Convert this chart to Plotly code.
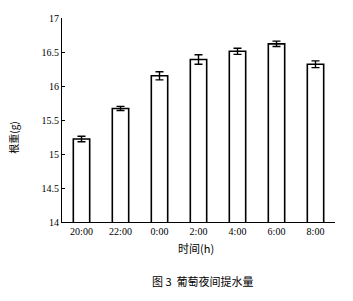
import plotly.graph_objects as go

categories = ["20:00", "22:00", "0:00", "2:00", "4:00", "6:00", "8:00"]
values = [15.22, 15.67, 16.15, 16.39, 16.51, 16.62, 16.32]
errors = [0.04, 0.03, 0.06, 0.07, 0.045, 0.04, 0.05]
y_ticks = [14, 14.5, 15, 15.5, 16, 16.5, 17]
y_tick_labels = ["14", "14.5", "15", "15.5", "16", "16.5", "17"]

fig = go.Figure()
fig.add_trace(go.Bar(
    x=categories, y=values,
    marker=dict(color="white", line=dict(color="black", width=1.6)),
    width=0.42,
    error_y=dict(type="data", array=errors, visible=True, color="black", thickness=1.4, width=4),
))

serif = "Liberation Serif"
fig.update_layout(
    width=353, height=301,
    margin=dict(l=62, r=18, t=14, b=79),
    paper_bgcolor="white", plot_bgcolor="white",
    showlegend=False,
    xaxis=dict(
        showline=True, linecolor="black", linewidth=1.2,
        ticks="", showgrid=False,
        tickfont=dict(family=serif, size=10, color="black"),
    ),
    yaxis=dict(
        range=[14, 17], tickvals=y_ticks, ticktext=y_tick_labels,
        showline=True, linecolor="black", linewidth=1.2,
        ticks="inside", ticklen=3, tickcolor="black",
        showgrid=False, zeroline=False,
        tickfont=dict(family=serif, size=10, color="black"),
    ),
    annotations=[
        dict(text="根重(g)", x=14, y=136, showarrow=False,
             textangle=-90, font=dict(family="Noto Sans CJK SC", size=10, color="black")),
        dict(text="时间(h)", x=196, y=249, showarrow=False,
             font=dict(family="Noto Sans CJK SC", size=11, color="black")),
        dict(text="图 3  葡萄夜间提水量", x=203, y=282, showarrow=False,
             font=dict(family="Noto Sans CJK SC", size=11, color="black")),
    ],
)

# convert pixel positions of annotations to paper coords
pw = 353 - 62 - 18
ph = 301 - 14 - 79
for a in fig.layout.annotations:
    px, py = a.x, a.y
    a.xref = "paper"; a.yref = "paper"
    a.xanchor = "center"; a.yanchor = "middle"
    a.x = (px - 62) / pw
    a.y = (301 - 79 - py) / ph

fig.write_html("out.html")
